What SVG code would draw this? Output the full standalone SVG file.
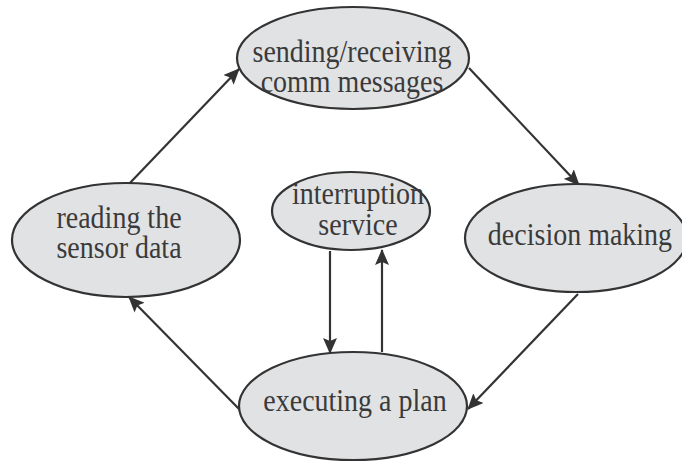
<svg xmlns="http://www.w3.org/2000/svg" width="682" height="463" viewBox="0 0 682 463">
<style>
.n ellipse{fill:#e1e2e4;stroke:#333;stroke-width:2.2}
.n text{font-family:"Liberation Serif","Times New Roman",serif;font-size:28px;fill:#3a3a3a;text-anchor:middle}
.c line{stroke:#333;stroke-width:2.2;marker-end:url(#ah)}
</style>
<defs>
<marker id="ah" viewBox="0 0 16 14" refX="15" refY="7" markerWidth="16" markerHeight="14" markerUnits="userSpaceOnUse" orient="auto">
<path d="M0,0 L16,7 L0,14 L3,7 z" fill="#333"/>
</marker>
</defs>
<rect width="682" height="463" fill="#fff"/>
<g class="c">
<line x1="128" y1="185" x2="239" y2="69"/>
<line x1="469" y1="68" x2="579" y2="185"/>
<line x1="578" y1="294" x2="468" y2="409"/>
<line x1="240" y1="410" x2="129" y2="297"/>
<line x1="330" y1="251" x2="330" y2="353"/>
<line x1="382" y1="352" x2="382" y2="250"/>
</g>
<g class="n" id="send"><ellipse cx="353" cy="58" rx="116" ry="51"/><text transform="translate(352,62) scale(1,1.12)">sending/receiving</text><text transform="translate(352,92) scale(1,1.12)">comm messages</text></g>
<g class="n" id="read"><ellipse cx="126" cy="240" rx="114" ry="57"/><text transform="translate(119,228) scale(1,1.12)">reading the</text><text transform="translate(119,258) scale(1,1.12)">sensor data</text></g>
<g class="n" id="decide"><ellipse cx="576" cy="238" rx="111" ry="54"/><text transform="translate(580,245) scale(1,1.12)">decision making</text></g>
<g class="n" id="intr"><ellipse cx="351" cy="211" rx="79" ry="39"/><text transform="translate(358,204) scale(1,1.12)">interruption</text><text transform="translate(358,235) scale(1,1.12)">service</text></g>
<g class="n" id="exec"><ellipse cx="353" cy="406" rx="114" ry="54"/><text transform="translate(355,411) scale(1,1.12)">executing a plan</text></g>
</svg>
